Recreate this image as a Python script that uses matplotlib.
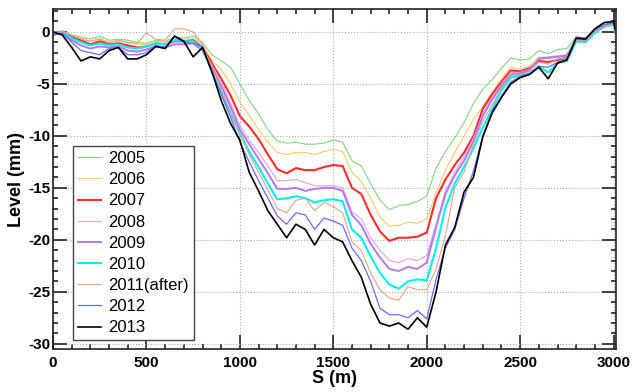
import matplotlib
matplotlib.use("Agg")
import matplotlib.pyplot as plt
from matplotlib.ticker import MultipleLocator

plt.rcParams['font.family'] = ['Liberation Sans', 'DejaVu Sans']
plt.rcParams['axes.unicode_minus'] = False

S = list(range(0, 3001, 50)) + [3010]

y2005 = [0.0, 0.1, -0.3, -0.5, -0.7, -0.4, -0.8, -0.7, -0.8, -1.0, -1.1, -0.8, -0.9, -0.5, -0.6, -0.4,
         -1.0, -2.2, -2.8, -3.4, -5.0, -6.6, -7.9, -9.4, -10.5, -10.7, -10.6, -10.8, -10.8, -10.7, -10.4,
         -10.6, -12.4, -12.9, -14.6, -16.2, -17.1, -16.7, -16.6, -16.3, -15.8, -13.1, -11.5, -10.2, -8.7,
         -6.9, -5.5, -4.6, -3.5, -2.5, -2.7, -2.6, -1.8, -2.1, -1.7, -1.6, -0.5, -0.6, 0.2, 0.7, 0.9, 0.1]
y2006 = [0.0, 0.0, -0.4, -0.6, -0.9, -0.6, -1.0, -0.9, -1.0, -1.2, -1.2, -0.9, -1.0, -0.7, -0.7, -0.6,
         -1.2, -2.7, -3.6, -5.0, -6.8, -8.0, -9.4, -10.6, -11.6, -11.8, -11.6, -11.6, -11.8, -11.5, -11.3,
         -11.5, -13.5, -14.4, -16.0, -17.8, -18.7, -18.6, -18.3, -18.4, -18.0, -15.5, -13.3, -11.6, -10.0,
         -8.4, -7.2, -5.8, -4.5, -3.4, -3.6, -3.3, -2.4, -2.6, -2.3, -2.2, -0.6, -0.8, 0.1, 0.6, 0.9, 0.0]
y2007 = [-0.1, 0.0, -0.5, -0.8, -1.2, -0.9, -1.2, -1.1, -1.3, -1.5, -1.4, -1.1, -1.2, -0.9, -0.9, -0.8,
         -1.5, -3.0, -4.5, -6.1, -8.1, -9.1, -10.3, -11.8, -13.2, -13.6, -13.1, -13.3, -13.3, -13.0, -12.8,
         -12.9, -15.0, -15.6, -17.6, -19.2, -20.1, -19.8, -19.8, -19.7, -19.3, -16.0, -14.2, -12.8, -11.6,
         -10.0, -7.4, -6.0, -4.8, -3.7, -3.8, -3.5, -2.8, -2.9, -2.7, -2.5, -0.8, -0.9, 0.0, 0.5, 0.8, 0.0]
y2008 = [-0.1, 0.0, -0.6, -1.0, -1.3, -1.1, -1.3, -1.2, -1.5, -1.6, -1.5, -1.2, -1.3, -1.0, -1.0, -0.9,
         -1.7, -3.2, -4.8, -6.8, -9.0, -10.4, -11.6, -12.9, -14.3, -14.3, -14.2, -14.5, -14.8, -14.8, -14.8,
         -15.0, -17.3, -18.0, -19.8, -21.0, -22.0, -22.2, -21.8, -22.0, -21.5, -18.5, -15.3, -13.5, -12.0,
         -10.2, -7.9, -6.3, -5.0, -3.9, -3.9, -3.6, -2.5, -2.4, -2.3, -2.2, -0.7, -0.9, 0.1, 0.6, 0.8, 0.0]
y2009 = [-0.3, -0.1, -0.8, -1.3, -1.6, -1.4, -1.5, -1.4, -1.8, -1.9, -1.7, -1.4, -1.5, -1.2, -1.2, -1.1,
         -1.8, -3.4, -5.2, -7.2, -9.4, -10.8, -12.2, -13.6, -15.1, -15.1, -15.0, -15.3, -15.1, -15.0, -15.0,
         -15.3, -17.6, -18.6, -20.4, -21.7, -22.8, -23.0, -22.6, -22.8, -22.2, -18.8, -15.6, -13.8, -12.4,
         -10.5, -8.1, -6.5, -5.2, -4.1, -4.0, -3.7, -2.6, -2.5, -2.4, -2.3, -0.7, -0.9, 0.1, 0.6, 0.8, 0.0]
y2010 = [-0.2, 0.0, -0.6, -1.0, -1.3, -1.1, -1.3, -1.2, -1.5, -1.6, -1.4, -1.1, -1.2, -0.8, -0.9, -0.9,
         -1.6, -3.8, -5.8, -7.8, -9.8, -11.5, -13.0, -14.6, -16.1, -16.0, -15.8, -16.0, -16.4, -16.2, -16.1,
         -16.3, -19.0, -19.8, -21.6, -23.2, -24.3, -24.7, -24.0, -23.8, -23.9, -20.8, -16.9, -14.6, -13.0,
         -11.2, -9.2, -7.4, -5.6, -4.4, -4.2, -4.0, -3.3, -3.9, -3.0, -2.8, -0.9, -1.0, -0.1, 0.5, 0.7, 0.0]
y2011 = [-0.1, 0.0, -0.3, -0.7, -0.9, -0.7, -1.0, -0.8, -1.0, -1.1, -0.1, -0.7, -0.8, 0.3, 0.3, 0.0,
         -1.2, -3.5, -5.5, -7.8, -9.8, -11.8, -13.5, -15.2, -17.0, -17.4, -16.2, -16.0, -17.2, -16.4, -16.8,
         -17.4, -20.2, -21.0, -23.2, -24.8, -25.6, -25.8, -24.5, -24.8, -24.8, -22.8, -19.6, -15.0, -13.5,
         -10.8, -8.6, -7.0, -5.4, -4.2, -4.1, -3.8, -2.9, -3.1, -2.6, -2.5, -0.8, -0.9, 0.0, 0.5, 0.8, 0.0]
y2012 = [-0.3, -0.1, -1.0, -1.8, -2.0, -2.2, -1.6, -1.5, -2.2, -2.2, -2.0, -1.3, -1.5, -0.5, -1.0, -1.1,
         -1.4, -3.9, -6.0, -8.2, -10.6, -12.5, -14.3, -16.0, -17.7, -18.5, -17.4, -17.6, -19.0, -17.9, -18.2,
         -18.6, -20.8, -22.0, -24.0, -26.6, -27.2, -27.2, -27.5, -26.8, -27.6, -23.8, -20.8, -19.0, -16.0,
         -13.4, -10.0, -7.6, -6.2, -4.8, -4.3, -4.0, -3.3, -3.4, -2.9, -2.7, -0.5, -0.6, 0.2, 0.7, 0.9, 0.1]
y2013 = [0.0, -0.3, -1.5, -2.8, -2.4, -2.6, -1.8, -1.5, -2.6, -2.6, -2.2, -1.4, -1.6, -0.4, -0.9, -2.4,
         -1.5, -3.8, -6.6, -8.8, -10.4, -13.5, -15.3, -17.2, -18.5, -19.8, -18.5, -19.0, -20.5, -19.0, -19.8,
         -20.2, -22.0, -23.6, -26.2, -28.0, -28.3, -28.0, -28.6, -27.5, -28.4, -25.0, -20.5, -18.8, -15.4,
         -14.0, -10.1, -7.8, -6.3, -5.0, -4.4, -4.1, -3.4, -4.5, -3.0, -2.7, -0.6, -0.7, 0.3, 0.9, 1.0, 0.2]

labels = ['2005', '2006', '2007', '2008', '2009', '2010', '2011(after)', '2012', '2013']
series = [y2005, y2006, y2007, y2008, y2009, y2010, y2011, y2012, y2013]
colors = ['#7fd67f', '#ffc966', '#ff2a2a', '#e3a0e3', '#b577f2', '#00f0f0', '#e0a584', '#6a6aff', '#000000']
widths = [0.8, 0.8, 1.5, 0.8, 1.4, 1.5, 0.8, 0.9, 1.2]

fig = plt.figure(figsize=(6.32, 3.92), dpi=100)
ax = fig.add_axes([0.0839, 0.1097, 0.8908, 0.8673])

for y, lab, c, w in zip(series, labels, colors, widths):
    ax.plot(S, y, color=c, lw=w, label=lab)

ax.set_xlim(0, 3013)
ax.set_ylim(-30.5, 2.2)
ax.xaxis.set_major_locator(MultipleLocator(500))
ax.xaxis.set_minor_locator(MultipleLocator(100))
ax.yaxis.set_major_locator(MultipleLocator(5))
ax.yaxis.set_minor_locator(MultipleLocator(1))
ax.tick_params(which='both', direction='in', top=True, right=True, width=1.2, color='#222222')
ax.tick_params(which='major', length=10, labelsize=11)
ax.tick_params(axis='x', which='major', pad=5)
ax.tick_params(axis='y', which='major', pad=2)
ax.tick_params(which='minor', length=3.5)
for lbl in ax.get_xticklabels() + ax.get_yticklabels():
    lbl.set_fontweight('bold')
ax.grid(True, which='major', linestyle=':', color='#aaaaaa', linewidth=0.8)
for sp in ax.spines.values():
    sp.set_linewidth(1.2)
    sp.set_color('#222222')

ax.set_xlabel('S (m)', fontsize=13, fontweight='bold', labelpad=0)
ax.set_ylabel('Level (mm)', fontsize=13, fontweight='bold', labelpad=2)

leg = ax.legend(loc='upper left', bbox_to_anchor=(0.0355, 0.597), borderaxespad=0,
                fontsize=12, handlelength=1.4, handletextpad=0.4, labelspacing=0.37,
                fancybox=False, framealpha=1, edgecolor='#444444', borderpad=0.3)
leg.get_frame().set_linewidth(1.0)

fig.savefig('out.png', dpi=100)
